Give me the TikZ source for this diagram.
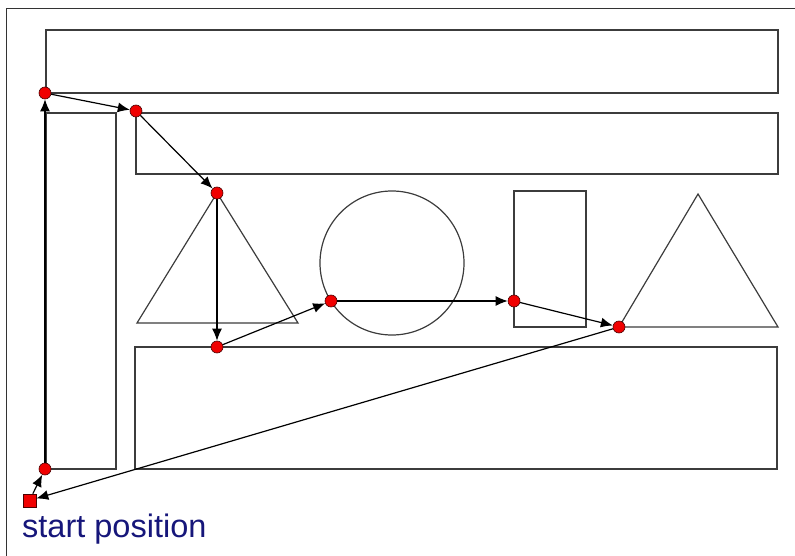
\documentclass[tikz,border=0pt]{standalone}
\usepackage{fontspec}
\setmainfont{Liberation Sans}
\usetikzlibrary{arrows.meta}
\definecolor{shapegray}{HTML}{3C3C3C}
\definecolor{dotred}{HTML}{F00000}
\definecolor{labelblue}{HTML}{16167A}

\begin{document}
\begin{tikzpicture}[
		x=1pt, y=-1pt,
		obstacle/.style={draw=shapegray, line width=1.2pt},
		waypoint/.style={circle, fill=dotred, draw=black!70!red, line width=0.6pt, minimum size=12pt, inner sep=0pt},
		startbox/.style={rectangle, fill=dotred, draw=black!70!red, line width=0.6pt, minimum size=13pt, inner sep=0pt},
		arrow/.style={-{Latex[length=12pt, width=10pt]}, line width=1.2pt, black}
		]
		\useasboundingbox (0,0) rectangle (795,556);
		
		% frame
		\draw[line width=1pt, black!80] (6,556) -- (6,9) -- (795,9);
		
		% obstacles
		\draw[obstacle] (46,30) rectangle (778,93);
		\draw[obstacle] (46,113) rectangle (116,469);
		\draw[obstacle] (136,113) rectangle (778,174);
		\draw[obstacle] (217,193) -- (298,323) -- (137,323) -- cycle;
		\draw[obstacle] (392,263) circle (72);
		\draw[obstacle] (514,191) rectangle (586,327);
		\draw[obstacle] (698,194) -- (778,327) -- (619,327) -- cycle;
		\draw[obstacle] (135,347) rectangle (777,469);
		
		% path points
		\node[startbox] (start) at (29.5,500.5) {};
		\node[waypoint] (p1) at (45,469) {};
		\node[waypoint] (p2) at (45,93) {};
		\node[waypoint] (p3) at (136,111) {};
		\node[waypoint] (p4) at (217,193) {};
		\node[waypoint] (p5) at (217,347) {};
		\node[waypoint] (p6) at (331,301) {};
		\node[waypoint] (p7) at (514,301) {};
		\node[waypoint] (p8) at (619,327) {};
		
		\draw[arrow] (start) -- (p1);
		\draw[arrow] (p1) -- (p2);
		\draw[arrow] (p2) -- (p3);
		\draw[arrow] (p3) -- (p4);
		\draw[arrow] (p4) -- (p5);
		\draw[arrow] (p5) -- (p6);
		\draw[arrow] (p6) -- (p7);
		\draw[arrow] (p7) -- (p8);
		\draw[arrow] (p8) -- (start);
		
		\node[anchor=base west, inner sep=0pt, text=labelblue, font=\fontsize{32.5}{38}\selectfont] (label) at (22,537) {start position};
		
	\end{tikzpicture}
\end{document}
